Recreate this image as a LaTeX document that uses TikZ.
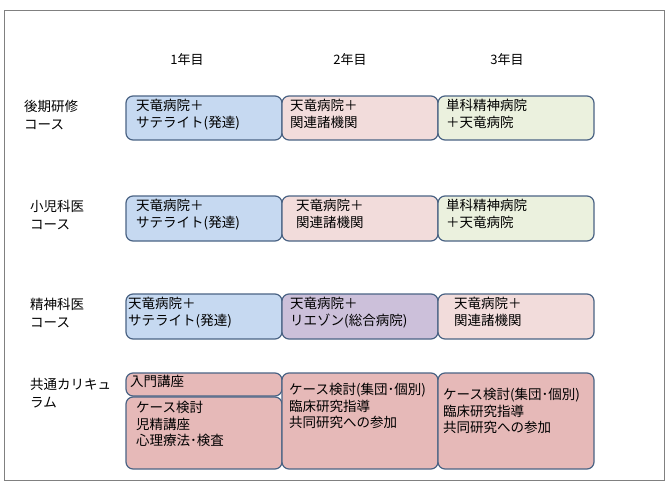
\documentclass[tikz,border=0pt]{standalone}
\usepackage{fontspec}
\setmainfont{Noto Sans CJK JP}
\begin{document}
\begin{tikzpicture}[x=1pt,y=-1pt,
  cell/.style={draw=bd,line width=1.2pt,rounded corners=7pt},
  txt/.style={anchor=north west,align=left,font=\fontsize{13.5}{16.5}\selectfont,inner sep=0pt},
  lab/.style={anchor=north west,align=left,font=\fontsize{13.5}{18}\selectfont,inner sep=0pt}]
\definecolor{bd}{HTML}{4A6384}
\definecolor{cb}{HTML}{C6D9F1}
\definecolor{cp}{HTML}{F2DCDB}
\definecolor{cg}{HTML}{EBF1DE}
\definecolor{cv}{HTML}{CCC0DA}
\definecolor{cr}{HTML}{E6B9B8}
\useasboundingbox (0,0) rectangle (670,491);
\draw[gray,line width=0.8pt] (4,10) rectangle (664,480);
\node (h1) at (187,60) {\fontsize{13}{15}\selectfont 1年目};
\node (h2) at (350,60) {\fontsize{13}{15}\selectfont 2年目};
\node (h3) at (507,60) {\fontsize{13}{15}\selectfont 3年目};
\node[lab] (l1) at (24,100) {後期研修\\ コース};
\node[lab] (l2) at (30,200) {小児科医\\ コース};
\node[lab] (l3) at (30,298) {精神科医\\ コース};
\node[lab] (l4) at (30,378) {共通カリキュ\\ ラム};
% row1
\draw[cell,fill=cb] (126,96) rectangle (282,140);
\draw[cell,fill=cp] (282,96) rectangle (438,140);
\draw[cell,fill=cg] (438,96) rectangle (594,140);
\node[txt] (a1) at (136,99) {天竜病院＋\\サテライト(発達)};
\node[txt] (a2) at (290,99) {天竜病院＋\\関連諸機関};
\node[txt] (a3) at (446,99) {単科精神病院\\＋天竜病院};
% row2
\draw[cell,fill=cb] (126,196) rectangle (282,241);
\draw[cell,fill=cp] (282,196) rectangle (438,241);
\draw[cell,fill=cg] (438,196) rectangle (594,241);
\node[txt] (b1) at (136,199) {天竜病院＋\\サテライト(発達)};
\node[txt] (b2) at (296,199) {天竜病院＋\\関連諸機関};
\node[txt] (b3) at (446,199) {単科精神病院\\＋天竜病院};
% row3
\draw[cell,fill=cb] (126,294) rectangle (282,339);
\draw[cell,fill=cv] (282,294) rectangle (438,339);
\draw[cell,fill=cp] (438,294) rectangle (594,339);
\node[txt] (c1) at (128,297) {天竜病院＋\\サテライト(発達)};
\node[txt] (c2) at (290,297) {天竜病院＋\\リエゾン(総合病院)};
\node[txt] (c3) at (454,297) {天竜病院＋\\関連諸機関};
% row4
\draw[cell,fill=cr] (126,373) rectangle (282,396);
\draw[cell,fill=cr] (126,397) rectangle (282,469);
\draw[cell,fill=cr] (282,373) rectangle (438,469);
\draw[cell,fill=cr] (438,373) rectangle (594,469);
\node[txt] (d0) at (130,375) {入門講座};
\node[txt] (d1) at (136,401) {ケース検討\\児精講座\\心理療法･検査};
\node[txt] (d2) at (289,383) {ケース検討(集団･個別)\\臨床研究指導\\共同研究への参加};
\node[txt] (d3) at (443,388) {ケース検討(集団･個別)\\臨床研究指導\\共同研究への参加};
\end{tikzpicture}
\end{document}
